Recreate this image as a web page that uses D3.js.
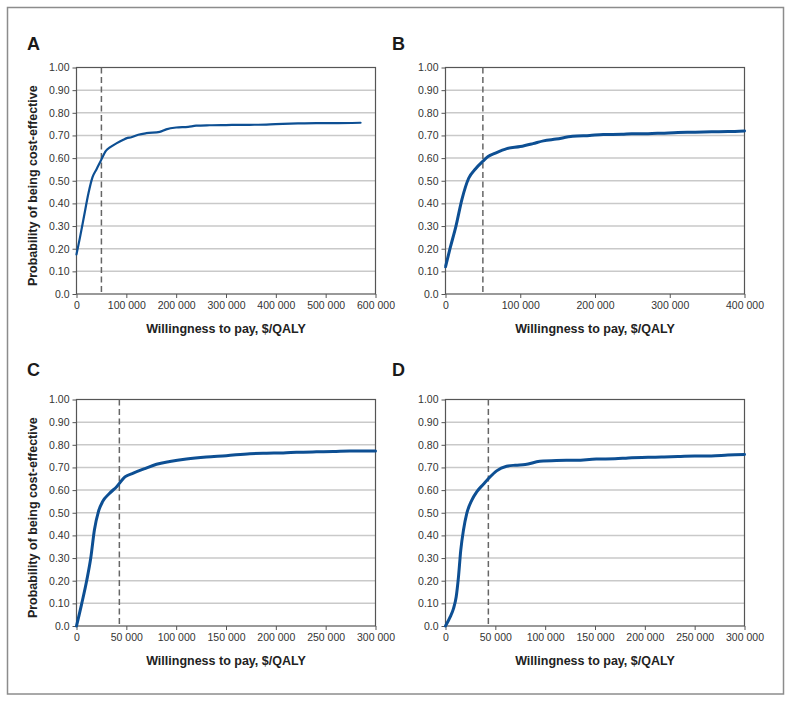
<!DOCTYPE html>
<html><head><meta charset="utf-8">
<script src="https://cdn.jsdelivr.net/npm/d3@7"></script>
<style>body{margin:0;background:#fff}svg{display:block}</style>
</head><body>
<script>
// ---------- data ----------
const panelLabels = ["A", "B", "C", "D"];
const yTickValues = [0, 0.1, 0.2, 0.3, 0.4, 0.5, 0.6, 0.7, 0.8, 0.9, 1.0];
const yTickLabels = ["0.0", "0.10", "0.20", "0.30", "0.40", "0.50", "0.60", "0.70", "0.80", "0.90", "1.00"];
const xTicksA = [0, 100000, 200000, 300000, 400000, 500000, 600000];
const xTicksB = [0, 100000, 200000, 300000, 400000];
const xTicksC = [0, 50000, 100000, 150000, 200000, 250000, 300000];
const xTicksD = [0, 50000, 100000, 150000, 200000, 250000, 300000];
const xTickLabelsA = ["0", "100 000", "200 000", "300 000", "400 000", "500 000", "600 000"];
const xTickLabelsB = ["0", "100 000", "200 000", "300 000", "400 000"];
const xTickLabelsC = ["0", "50 000", "100 000", "150 000", "200 000", "250 000", "300 000"];
const xTickLabelsD = ["0", "50 000", "100 000", "150 000", "200 000", "250 000", "300 000"];
const xMax = [600000, 400000, 300000, 300000];
const thresholds = [50000, 50000, 43000, 43000];

const wtpA = [0, 7000, 15000, 24000, 32000, 40000, 48000, 59000, 67000, 80000, 95000, 100000, 110000, 124000, 140000, 167000, 180000, 200000, 224000, 240000, 267000, 300000, 347000, 381000, 414000, 447000, 481000, 514000, 570000];
const probA = [0.175, 0.25, 0.342, 0.445, 0.515, 0.55, 0.585, 0.632, 0.647, 0.665, 0.682, 0.687, 0.692, 0.703, 0.71, 0.716, 0.727, 0.735, 0.738, 0.743, 0.745, 0.746, 0.747, 0.748, 0.751, 0.753, 0.754, 0.754, 0.756];

const wtpB = [0, 6000, 14000, 22000, 31000, 40000, 50000, 57000, 66000, 82000, 100000, 117000, 131000, 148000, 170000, 193000, 211000, 236000, 249000, 271000, 289000, 311000, 334000, 356000, 378000, 400000];
const probB = [0.12, 0.2, 0.3, 0.418, 0.511, 0.552, 0.586, 0.607, 0.621, 0.642, 0.651, 0.664, 0.676, 0.684, 0.696, 0.7, 0.704, 0.705, 0.708, 0.708, 0.71, 0.713, 0.714, 0.716, 0.717, 0.72];

const wtpC = [0, 5300, 10300, 14300, 18000, 22000, 26300, 33000, 40300, 48600, 57000, 68600, 80300, 93600, 110300, 130300, 150300, 174000, 190700, 207400, 220800, 240800, 257500, 274200, 300000];
const probC = [0, 0.1, 0.202, 0.3, 0.425, 0.505, 0.55, 0.585, 0.615, 0.658, 0.675, 0.695, 0.714, 0.726, 0.737, 0.746, 0.752, 0.761, 0.763, 0.764, 0.767, 0.769, 0.77, 0.773, 0.773];

const wtpD = [0, 4700, 8000, 10700, 13000, 15300, 18000, 21300, 26300, 31300, 38000, 44600, 51300, 61300, 70000, 80000, 94600, 111300, 131300, 151300, 170000, 183300, 203300, 216700, 233300, 250000, 266700, 283300, 300000];
const probD = [0, 0.04, 0.077, 0.128, 0.216, 0.334, 0.423, 0.496, 0.555, 0.592, 0.626, 0.658, 0.685, 0.705, 0.71, 0.713, 0.727, 0.731, 0.732, 0.737, 0.738, 0.742, 0.745, 0.746, 0.748, 0.751, 0.751, 0.755, 0.757];

const xTitle = "Willingness to pay, $/QALY";
const yTitle = "Probability of being cost-effective";

// ---------- layout ----------
const W = 791, H = 702;
const FONT = "'Liberation Sans', Arial, Helvetica, sans-serif";
const BLUE = "#0d4f93";
const panels = [
  {label: panelLabels[0], x0: 76.5, y0: 67.5, lx: 27, ly: 50, wtp: wtpA, prob: probA, ticks: xTicksA, tickLabels: xTickLabelsA, xmax: xMax[0], thr: thresholds[0], lw: 2.2, yTitle: true},
  {label: panelLabels[1], x0: 445.5, y0: 67.5, lx: 392, ly: 50, wtp: wtpB, prob: probB, ticks: xTicksB, tickLabels: xTickLabelsB, xmax: xMax[1], thr: thresholds[1], lw: 3, yTitle: false},
  {label: panelLabels[2], x0: 76.5, y0: 399.5, lx: 27, ly: 376, wtp: wtpC, prob: probC, ticks: xTicksC, tickLabels: xTickLabelsC, xmax: xMax[2], thr: thresholds[2], lw: 3, yTitle: true},
  {label: panelLabels[3], x0: 445.5, y0: 399.5, lx: 392, ly: 376, wtp: wtpD, prob: probD, ticks: xTicksD, tickLabels: xTickLabelsD, xmax: xMax[3], thr: thresholds[3], lw: 3, yTitle: false}
];
const PW = 299, PH = 226.5;

const svg = d3.select("body").append("svg").attr("width", W).attr("height", H)
  .style("font-family", FONT);

svg.append("rect").attr("x", 7.5).attr("y", 7.5).attr("width", 776).attr("height", 686.5)
  .attr("fill", "#fff").attr("stroke", "#8c8c8c").attr("stroke-width", 1.5);

panels.forEach(p => {
  const x = d3.scaleLinear().domain([0, p.xmax]).range([0, PW]);
  const y = d3.scaleLinear().domain([0, 1]).range([PH, 0]);
  const g = svg.append("g").attr("transform", `translate(${p.x0},${p.y0})`);

  // gridlines
  g.append("g").selectAll("line").data(yTickValues.filter(v => v > 0 && v < 1)).join("line")
    .attr("x1", 0).attr("x2", PW).attr("y1", d => y(d)).attr("y2", d => y(d))
    .attr("stroke", "#c9c9c9").attr("stroke-width", 1.5);

  // y axis
  const ya = g.append("g").call(d3.axisLeft(y).tickValues(yTickValues)
      .tickFormat((d, i) => yTickLabels[i]).tickSize(4).tickPadding(3));
  ya.select(".domain").remove();
  ya.selectAll("line").attr("stroke", "#555");
  ya.selectAll("text").attr("fill", "#333").style("font-size", "10.5px").style("font-family", FONT);

  // x axis
  const xa = g.append("g").attr("transform", `translate(0,${PH})`)
    .call(d3.axisBottom(x).tickValues(p.ticks).tickFormat((d, i) => p.tickLabels[i]).tickSize(4).tickPadding(4));
  xa.select(".domain").remove();
  xa.selectAll("line").attr("stroke", "#555");
  xa.selectAll("text").attr("fill", "#333").style("font-size", "10.5px").style("font-family", FONT);

  // frame
  g.append("rect").attr("x", 0).attr("y", 0).attr("width", PW).attr("height", PH)
    .attr("fill", "none").attr("stroke", "#555").attr("stroke-width", 1.2);

  // threshold line
  g.append("line").attr("x1", x(p.thr)).attr("x2", x(p.thr)).attr("y1", 0).attr("y2", PH)
    .attr("stroke", "#666").attr("stroke-width", 1.5).attr("stroke-dasharray", "6,3.5");

  // curve
  const line = d3.line().x((d, i) => x(p.wtp[i])).y((d, i) => y(p.prob[i])).curve(d3.curveMonotoneX);
  g.append("path").attr("d", line(p.wtp)).attr("fill", "none")
    .attr("stroke", BLUE).attr("stroke-width", p.lw).attr("stroke-linejoin", "round").attr("stroke-linecap", "round");

  // axis titles
  g.append("text").attr("x", PW / 2).attr("y", PH + 39).attr("text-anchor", "middle")
    .style("font-size", "12.5px").style("font-weight", "bold").attr("fill", "#222").text(xTitle);
  if (p.yTitle) {
    g.append("text").attr("transform", `translate(-39.5,${PH / 2 + 5}) rotate(-90)`).attr("text-anchor", "middle")
      .style("font-size", "12.5px").style("font-weight", "bold").attr("fill", "#222").text(yTitle);
  }

  // panel letter
  svg.append("text").attr("x", p.lx).attr("y", p.ly).style("font-size", "18px").style("font-weight", "bold")
    .attr("fill", "#1a1a1a").text(p.label);
});
</script>
</body></html>
